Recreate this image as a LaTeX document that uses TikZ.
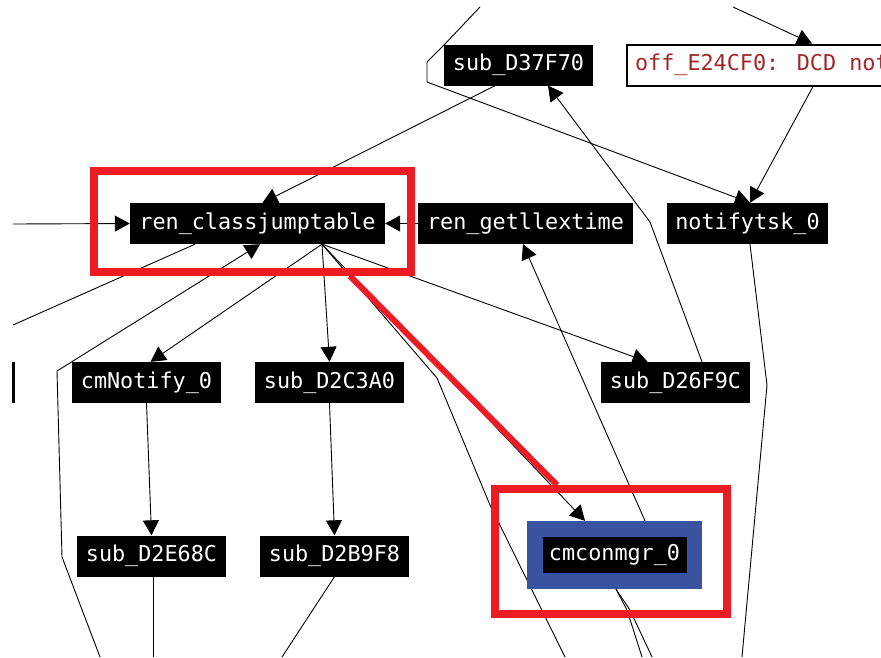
\documentclass[tikz,border=0pt]{standalone}
\usepackage{fontspec}
\usetikzlibrary{arrows.meta}
\newfontfamily\idafont{DejaVu Sans Mono}
\definecolor{hlred}{RGB}{237,28,36}
\definecolor{selblue}{RGB}{58,83,160}
\definecolor{cmtred}{RGB}{160,40,40}
\pgfdeclarelayer{edgelayer}
\pgfsetlayers{edgelayer,main}
\tikzset{
  fn/.style={fill=black, text=white, inner sep=0pt, minimum height=41pt,
    font=\idafont\fontsize{21.8}{24}\selectfont},
  cmtbox/.style={fill=white, draw=black, line width=2pt, text=cmtred, inner xsep=8pt,
    inner ysep=0pt, minimum height=41pt, anchor=west,
    font=\idafont\fontsize{21.8}{24}\selectfont},
  link/.style={draw=black, line width=0.9pt, line join=round},
  tip/.style={-{Triangle[length=15pt,width=16pt]}},
  frame/.style={draw=hlred, line width=8pt, inner sep=0pt},
  redlink/.style={draw=hlred, line width=6pt},
}
\begin{document}
\begin{tikzpicture}[x=1pt,y=-1pt]
\useasboundingbox (0,0) rectangle (881,657);
\clip (0,0) rectangle (881,657);
\begin{pgfonlayer}{edgelayer}
\fill[white] (0,0) rectangle (881,657);
\end{pgfonlayer}

% function nodes
\node[fn, minimum width=149pt] (d37) at (518.5,65) {sub\_D37F70};
\node[cmtbox] (off) at (626,65) {off\_E24CF0: DCD not};
\node[fn, minimum width=255pt] (ren) at (257.5,223.5) {ren\_classjumptable};
\node[fn, minimum width=215pt] (getll) at (525.5,223.5) {ren\_getllextime};
\node[fn, minimum width=161pt] (notify) at (747.5,223.5) {notifytsk\_0};
\node[fn, minimum width=149pt] (cmn) at (146.5,382.5) {cmNotify\_0};
\node[fn, minimum width=149pt] (d2c) at (329.5,382.5) {sub\_D2C3A0};
\node[fn, minimum width=149pt] (d26) at (675.5,382.5) {sub\_D26F9C};
\node[fn, minimum width=149pt] (d2e) at (151.5,556) {sub\_D2E68C};
\node[fn, minimum width=149pt] (d2b) at (334.5,556) {sub\_D2B9F8};
\node[fill=selblue, inner sep=0pt, minimum width=175pt, minimum height=68pt] (cmc) at (614.5,555) {};
\node[fn, minimum width=144pt, minimum height=36pt] (cmcin) at (cmc.center) {cmconmgr\_0};
\node[fill=black, inner sep=0pt, minimum width=3pt, minimum height=41pt] (stub) at (13.5,382.5) {};

% free ends and bends
\coordinate (inL) at (13,224);
\coordinate (topA) at (480,7);
\coordinate (ta1) at (444,45);
\coordinate (ta2) at (427,62);
\coordinate (ta3) at (427,82);
\coordinate (topB) at (733,7);
\coordinate (nb1) at (767,385);
\coordinate (nbEnd) at (742,657);
\coordinate (db1) at (650,222);
\coordinate (apex) at ([xshift=64.5pt]ren.south);
\coordinate (e1) at (437,378);
\coordinate (e2) at (490,505);
\coordinate (e3) at (565,657);
\coordinate (outL) at (13,325);
\coordinate (lEnd) at (100,657);
\coordinate (l1) at (62,557);
\coordinate (l2) at (57,371);
\coordinate (l3) at (73,361);
\coordinate (d2eEnd) at (153,657);
\coordinate (d2bEnd) at (282,657);
\coordinate (c1) at (627,610);
\coordinate (c2) at (630,610);
\coordinate (cEnd1) at (642,657);
\coordinate (cEnd2) at (652,657);

% connectors, kept beneath the boxes
\begin{pgfonlayer}{edgelayer}
\begin{scope}[link]
\draw[tip] (inL) -- (ren.west);
\draw[tip] (getll.west) -- (ren.east);
\draw[tip] ([xshift=-23.5pt]d37.south) -- ([xshift=5pt]ren.north);
\draw[tip] (topA) -- (ta1) -- (ta2) -- (ta3) -- ([xshift=2.5pt]notify.north);
\draw[tip] (topB) -- ([xshift=186pt]off.north west);
\draw[tip] ([xshift=187pt]off.south west) -- ([xshift=2.5pt]notify.north);
\draw ([xshift=2.5pt]notify.south) -- (nb1) -- (nbEnd);
\draw[tip] ([xshift=26.5pt]d26.north) -- (db1) -- ([xshift=29.5pt]d37.south);
\draw[tip] ([xshift=30.5pt]cmc.north) -- ([xshift=-2.5pt]getll.south);
\draw[tip] (apex) -- ([xshift=4pt]cmn.north);
\draw[tip] (apex) -- (d2c.north);
\draw[tip] (apex) -- ([xshift=-28pt]d26.north);
\draw[tip] (apex) -- ([xshift=-29.5pt]cmc.north);
\draw (apex) -- (e1) -- (e2) -- (e3);
\draw ([xshift=-62.5pt]ren.south) -- (outL);
\draw[tip] (lEnd) -- (l1) -- (l2) -- (l3) -- ([xshift=2.5pt]ren.south);
\draw[tip] (cmn.south) -- (d2e.north);
\draw[tip] (d2c.south) -- (d2b.north);
\draw ([xshift=1.5pt]d2e.south) -- (d2eEnd);
\draw (d2b.south) -- (d2bEnd);
\draw ([xshift=1.5pt]cmc.south) -- (c1) -- (cEnd1);
\draw ([xshift=1.5pt]cmc.south) -- (c2) -- (cEnd2);
\end{scope}
\end{pgfonlayer}

% highlight frames and the red link between them
\node[frame, minimum width=317pt, minimum height=101pt] (frameA) at (252.5,221.5) {};
\node[frame, minimum width=232pt, minimum height=125pt] (frameB) at (611,551.5) {};
\draw[redlink] ([xshift=97.5pt]frameA.south) -- ([xshift=-54pt]frameB.north);
\end{tikzpicture}
\end{document}
